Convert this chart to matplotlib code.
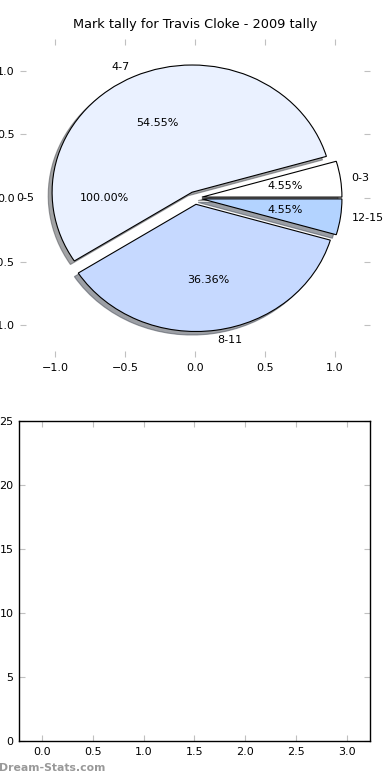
import matplotlib
matplotlib.use("Agg")
import matplotlib.pyplot as plt
import numpy as np

# dati del grafico a torta
labels = ["0-3", "4-7", "8-11", "12-15"]
values = [1, 12, 8, 1]
colors = ["#ffffff", "#eaf1ff", "#c6d9ff", "#b3d3ff"]
explode = [0.05, 0.05, 0.05, 0.05]

# etichetta extra (fetta vuota)
extra_label = "0-5"
extra_pct = "100.00%"

title = "Mark tally for Travis Cloke - 2009 tally"
watermark = "Dream-Stats.com"

pie_ticks = [-1.0, -0.5, 0.0, 0.5, 1.0]
bar_xticks = [0.0, 0.5, 1.0, 1.5, 2.0, 2.5, 3.0]
bar_yticks = [0, 5, 10, 15, 20, 25]

plt.rcParams["font.family"] = "DejaVu Sans"

fig = plt.figure(figsize=(3.9, 7.8), dpi=100)

# torta
ax1 = fig.add_axes([0.0513, 0.5423, 0.8974, 0.4077])
wedges, texts, autotexts = ax1.pie(values, labels=labels, colors=colors, explode=explode,
                                   autopct="%1.2f%%", shadow=True, startangle=0,
                                   labeldistance=1.08,
                                   wedgeprops={"edgecolor": "black", "linewidth": 0.8},
                                   textprops={"fontsize": 8})
# etichetta della fetta vuota, a 180 gradi
ang = np.pi
ax1.text(1.15 * np.cos(ang), 1.15 * np.sin(ang), extra_label, ha="right", va="center", fontsize=8)
ax1.text(0.65 * np.cos(ang), 0.65 * np.sin(ang), extra_pct, ha="center", va="center", fontsize=8)

ax1.set_aspect("auto")
ax1.set_frame_on(False)
ax1.set_xlim(-1.25, 1.25)
ax1.set_ylim(-1.25, 1.25)
ax1.set_xticks(pie_ticks)
ax1.set_yticks(pie_ticks)
ax1.tick_params(direction="in", length=4, color="#c0c0c0", labelsize=8,
                top=True, right=True, pad=4)
ax1.set_title(title, fontsize=9.3, pad=8)

# grafico vuoto sotto
ax2 = fig.add_axes([0.0487, 0.05, 0.9, 0.4103])
ax2.set_xlim(-0.225, 3.225)
ax2.set_ylim(0, 25)
ax2.set_xticks(bar_xticks)
ax2.set_yticks(bar_yticks)
ax2.tick_params(direction="in", length=4, color="#c0c0c0", labelsize=8,
                top=True, right=True, pad=4)
for s in ax2.spines.values():
    s.set_linewidth(1.0)

fig.text(-0.003, 0.012, watermark, color="#999999", fontsize=7.8, fontweight="bold")

fig.savefig("out.png", dpi=100)
